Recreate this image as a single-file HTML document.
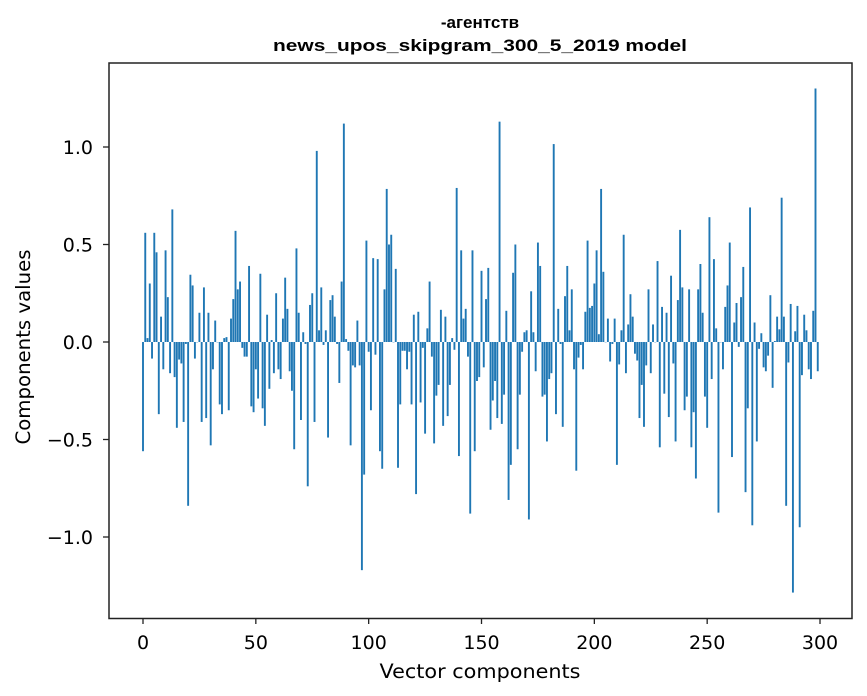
<!DOCTYPE html>
<html><head><meta charset="utf-8"><style>
html,body{margin:0;padding:0;background:#fff;}
svg{display:block;font-family:"DejaVu Sans","Liberation Sans",sans-serif;}
</style></head><body>
<svg id="chart" width="867" height="696" viewBox="0 0 867 696">
<g id="bars"></g>
<rect x="109" y="63" width="743" height="555.5" fill="none" stroke="#222" stroke-width="1.5"/>
<g id="xticks"></g>
<g id="yticks"></g>
<text x="480" y="28" text-anchor="middle" font-weight="bold" font-size="17" style="font-family:'Liberation Sans',sans-serif">-агентств</text>
<text x="480" y="51" text-anchor="middle" font-weight="bold" font-size="17" style="font-family:'Liberation Sans',sans-serif" textLength="414" lengthAdjust="spacingAndGlyphs">news_upos_skipgram_300_5_2019 model</text>
<text x="480" y="678" text-anchor="middle" font-size="19.5" textLength="201" lengthAdjust="spacingAndGlyphs">Vector components</text>
<text x="0" y="0" transform="translate(30,347) rotate(-90)" text-anchor="middle" font-size="19.5" textLength="195" lengthAdjust="spacingAndGlyphs">Components values</text>
</svg>
<script>
const values = [
-0.56,0.56,0.02,0.30,-0.085,0.56,0.46,-0.37,0.13,-0.14,
0.47,0.23,-0.16,0.68,-0.18,-0.44,-0.09,-0.11,-0.41,-0.01,
-0.84,0.345,0.29,-0.085,0.0,0.15,-0.41,0.28,-0.39,0.15,
-0.53,-0.14,0.11,0.0,-0.32,-0.37,0.02,0.025,-0.35,0.12,
0.22,0.57,0.27,0.31,-0.03,-0.075,-0.075,0.39,-0.33,-0.36,
-0.14,-0.29,0.35,-0.34,-0.43,0.14,-0.24,0.01,-0.16,0.25,
-0.14,-0.19,0.12,0.33,0.17,-0.15,-0.25,-0.55,0.48,0.15,
-0.40,0.05,-0.01,-0.74,0.19,0.25,-0.41,0.98,0.06,0.28,
-0.015,0.06,-0.49,0.215,0.24,0.13,-0.01,-0.21,0.31,1.12,
0.015,-0.045,-0.53,-0.12,-0.13,0.11,-0.12,-1.17,-0.68,0.52,
-0.05,-0.35,0.43,-0.065,0.425,-0.56,-0.65,0.27,0.785,0.50,
0.55,0.0,0.375,-0.645,-0.32,-0.045,-0.045,-0.14,-0.05,-0.32,
0.14,-0.78,0.155,-0.31,-0.03,-0.47,0.07,0.31,-0.075,-0.52,
-0.275,-0.22,0.165,-0.43,0.13,-0.38,-0.22,0.02,-0.04,0.79,
-0.585,0.47,0.12,0.17,-0.075,-0.88,0.47,-0.56,-0.20,-0.18,
0.365,-0.13,0.22,0.38,-0.45,-0.30,-0.20,-0.39,1.13,-0.42,
-0.27,0.16,-0.81,-0.63,0.355,0.50,-0.55,-0.27,-0.05,0.05,
0.06,-0.91,0.26,0.05,-0.15,0.51,0.39,-0.28,-0.27,-0.51,
-0.19,-0.16,1.015,-0.37,0.17,-0.01,-0.435,0.235,0.39,0.06,
0.27,-0.14,-0.66,-0.08,-0.015,-0.14,0.155,0.52,0.175,0.185,
0.30,0.47,0.04,0.785,0.36,0.0,0.12,-0.10,-0.01,0.12,
-0.63,-0.115,0.06,0.55,-0.16,0.09,0.245,0.13,-0.06,-0.095,
-0.39,-0.22,-0.435,-0.12,0.27,-0.16,0.09,0.0,0.415,-0.54,
0.18,-0.265,0.15,-0.385,0.34,-0.11,-0.51,0.215,0.575,0.28,
-0.35,-0.28,0.27,-0.54,-0.36,-0.70,0.27,0.40,0.15,-0.28,
-0.44,0.64,-0.19,0.425,0.07,-0.875,0.0,-0.14,0.18,0.29,
0.51,-0.59,0.10,0.20,-0.025,0.23,0.385,-0.77,-0.34,0.69,
-0.94,0.10,-0.51,-0.035,0.045,-0.13,-0.15,-0.07,0.24,-0.235,
0.005,0.13,0.065,0.74,0.13,-0.84,-0.105,0.195,-1.285,0.055,
0.185,-0.95,-0.17,0.14,0.06,-0.14,-0.19,0.16,1.30,-0.15
];
const xTicks = [0,50,100,150,200,250,300];
const xTickLabels = ["0","50","100","150","200","250","300"];
const yTicks = [-1.0,-0.5,0.0,0.5,1.0];
const yTickLabels = ["\u22121.0","\u22120.5","0.0","0.5","1.0"];

const NS = "http://www.w3.org/2000/svg";
function xScale(i){ return 143 + 2.2567*i; }
function yScale(v){ return 342 - 195*v; }
const barsG = document.getElementById('bars');
values.forEach((v,i)=>{
  const r = document.createElementNS(NS,'rect');
  const y0 = yScale(0), y1 = yScale(v);
  r.setAttribute('x', xScale(i) - 0.95);
  r.setAttribute('width', 1.9);
  r.setAttribute('y', Math.min(y0,y1));
  r.setAttribute('height', Math.max(Math.abs(y1-y0),0.3));
  r.setAttribute('fill', '#1f77b4');
  
  
  barsG.appendChild(r);
});
const xg = document.getElementById('xticks');
xTicks.forEach((t,k)=>{
  const x = xScale(t);
  const l = document.createElementNS(NS,'line');
  l.setAttribute('x1',x);l.setAttribute('x2',x);l.setAttribute('y1',618);l.setAttribute('y2',624);
  l.setAttribute('stroke','#222');l.setAttribute('stroke-width','1.3');
  
  
  xg.appendChild(l);
  const tx = document.createElementNS(NS,'text');
  tx.setAttribute('x',x);tx.setAttribute('y',649);tx.setAttribute('text-anchor','middle');tx.setAttribute('font-size','19');
  tx.textContent = xTickLabels[k];
  
  
  xg.appendChild(tx);
});
const yg = document.getElementById('yticks');
yTicks.forEach((t,k)=>{
  const y = yScale(t);
  const l = document.createElementNS(NS,'line');
  l.setAttribute('x1',103);l.setAttribute('x2',109);l.setAttribute('y1',y);l.setAttribute('y2',y);
  l.setAttribute('stroke','#222');l.setAttribute('stroke-width','1.3');
  
  
  yg.appendChild(l);
  const tx = document.createElementNS(NS,'text');
  tx.setAttribute('x',93);tx.setAttribute('y',y+7);tx.setAttribute('text-anchor','end');tx.setAttribute('font-size','19');
  tx.textContent = yTickLabels[k];
  
  
  yg.appendChild(tx);
});
</script>
</body></html>
